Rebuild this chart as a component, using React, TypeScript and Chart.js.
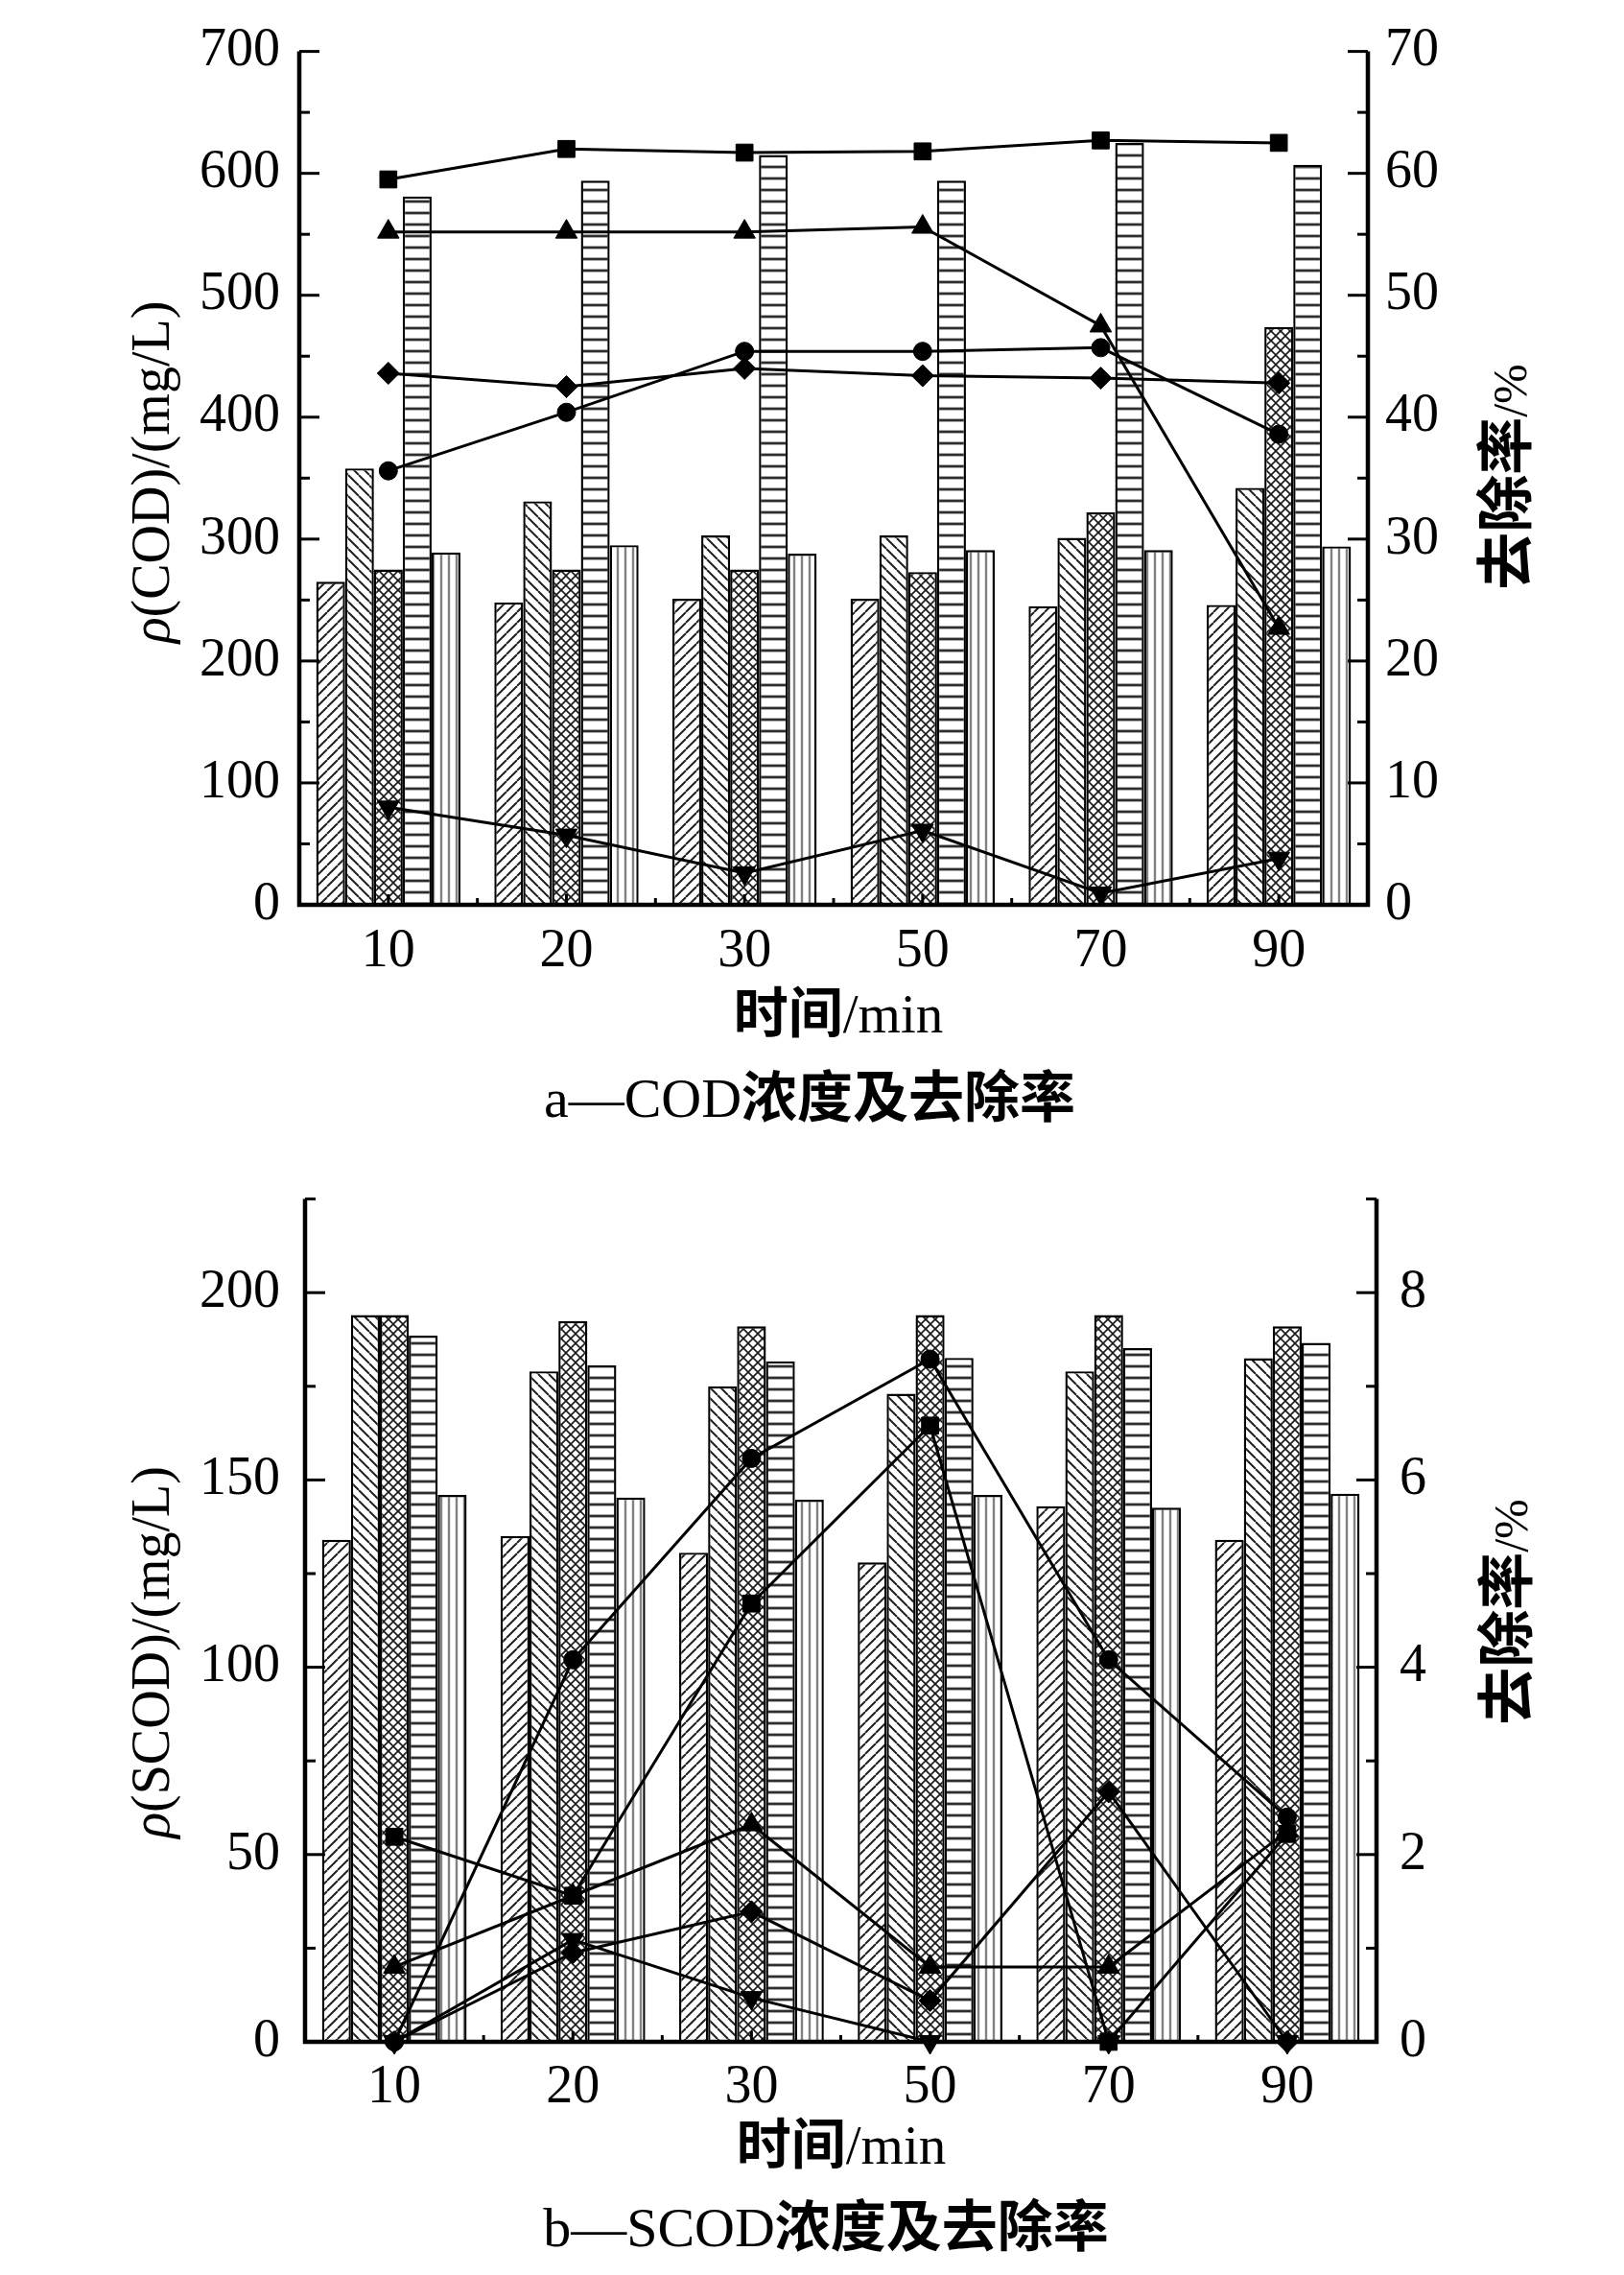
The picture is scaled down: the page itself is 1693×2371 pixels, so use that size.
import React, { useEffect, useRef } from 'react';
import { Chart, registerables } from 'chart.js';

Chart.register(...registerables);

// ---------- data ----------
const categories = ['10', '20', '30', '50', '70', '90'];

// a — COD concentration (mg/L), five bar series
const codBarA = [265, 248, 251, 251, 245, 246];
const codBarB = [358, 331, 303, 303, 301, 342];
const codBarC = [275, 275, 275, 273, 322, 474];
const codBarD = [581, 594, 615, 594, 625, 607];
const codBarE = [289, 295, 288, 291, 291, 294];
// a — removal rate (%)
const codRateSquare = [59.5, 62.0, 61.7, 61.8, 62.7, 62.5];
const codRateTriangle = [55.2, 55.2, 55.2, 55.6, 47.5, 22.7];
const codRateCircle = [35.6, 40.4, 45.4, 45.4, 45.7, 38.6];
const codRateDiamond = [43.6, 42.5, 44.0, 43.4, 43.2, 42.8];
const codRateInvTriangle = [8.0, 5.7, 2.6, 6.1, 0.95, 3.8];

// b — SCOD concentration (mg/L)
const scodBarA = [134, 135, 130.6, 128, 143, 134];
const scodBarB = [194, 179, 175, 173, 179, 182.5];
const scodBarC = [194, 192.4, 191, 194, 194, 191];
const scodBarD = [188.5, 180.6, 181.7, 182.6, 185.2, 186.6];
const scodBarE = [146, 145.3, 144.7, 146, 142.6, 146.3];
// b — removal rate (%)
const scodRateSquare = [2.19, 1.56, 4.68, 6.58, 0, 2.22];
const scodRateTriangle = [0.8, 1.56, 2.32, 0.8, 0.8, 2.25];
const scodRateCircle = [0, 4.08, 6.23, 7.29, 4.08, 2.4];
const scodRateDiamond = [0, 0.95, 1.39, 0.44, 2.67, 0];
const scodRateInvTriangle = [0, 1.09, 0.47, 0, 0, 0];

// axis ranges / tick steps
const codAxis = { max: 700, step: 50, labelEvery: 100 };
const codRateAxis = { max: 70, step: 5, labelEvery: 10 };
const scodAxis = { max: 225, step: 25, labelEvery: 50 };
const scodRateAxis = { max: 9, step: 1, labelEvery: 2 };

// ---------- styling ----------
const SERIF = '"Liberation Serif", "Times New Roman", serif';
const CJK = '"Noto Sans CJK SC", "Noto Sans CJK JP", sans-serif';
const W = 1693;

type Run = { text: string; font: string };

function drawRuns(ctx: CanvasRenderingContext2D, runs: Run[], cx: number, cy: number, rotate: boolean, size: number) {
  ctx.save();
  ctx.translate(cx, cy);
  if (rotate) ctx.rotate(-Math.PI / 2);
  ctx.textBaseline = 'alphabetic';
  ctx.textAlign = 'left';
  ctx.fillStyle = '#000';
  const widths = runs.map((r) => {
    ctx.font = r.font;
    return ctx.measureText(r.text).width;
  });
  const total = widths.reduce((a, b) => a + b, 0);
  let x = -total / 2;
  const base = size * 0.36;
  runs.forEach((r, i) => {
    ctx.font = r.font;
    ctx.fillText(r.text, x, base);
    x += widths[i];
  });
  ctx.restore();
}

function makePatterns(ctx: CanvasRenderingContext2D) {
  const tile = (s: number, draw: (c: CanvasRenderingContext2D, s: number) => void) => {
    const c = document.createElement('canvas');
    c.width = s;
    c.height = s;
    const t = c.getContext('2d') as CanvasRenderingContext2D;
    t.fillStyle = '#fff';
    t.fillRect(0, 0, s, s);
    draw(t, s);
    return ctx.createPattern(c, 'repeat') as CanvasPattern;
  };
  const diag = (t: CanvasRenderingContext2D, s: number, dir: number, color: string, lw: number) => {
    t.strokeStyle = color;
    t.lineWidth = lw;
    t.beginPath();
    for (let o = -s; o <= s; o += s) {
      if (dir > 0) {
        t.moveTo(o, s);
        t.lineTo(o + s, 0);
      } else {
        t.moveTo(o, 0);
        t.lineTo(o + s, s);
      }
    }
    t.stroke();
  };
  return {
    fwd: tile(11, (t, s) => diag(t, s, 1, '#222', 2.0)),
    back: tile(11, (t, s) => diag(t, s, -1, '#222', 2.0)),
    cross: tile(10, (t, s) => {
      diag(t, s, 1, '#1a1a1a', 1.6);
      diag(t, s, -1, '#1a1a1a', 1.6);
    }),
    horiz: tile(12, (t, s) => {
      t.fillStyle = '#2e2e2e';
      t.fillRect(0, s / 2 - 1.4, s, 2.8);
    }),
    vert: tile(8, (t, s) => {
      t.fillStyle = '#828282';
      t.fillRect(s / 2 - 1.2, 0, 2.4, s);
    }),
  };
}

type Spec = {
  height: number;
  area: { left: number; right: number; top: number; bottom: number };
  bars: number[][];
  lines: number[][];
  yAxis: { max: number; step: number; labelEvery: number };
  rAxis: { max: number; step: number; labelEvery: number };
  leftPad: number;
  rightPad: number;
  xPad: number;
  leftTitle: { runs: Run[]; x: number; y: number };
  rightTitle: { runs: Run[]; x: number; y: number };
  xTitle: { runs: Run[]; x: number; y: number };
  caption: { runs: Run[]; x: number; y: number };
};

const markerStyles = [
  { pointStyle: 'rect', radius: 12.5, rotation: 0 },
  { pointStyle: 'triangle', radius: 13, rotation: 0 },
  { pointStyle: 'circle', radius: 9.5, rotation: 0 },
  { pointStyle: 'rectRot', radius: 11.5, rotation: 0 },
  { pointStyle: 'triangle', radius: 13, rotation: 180 },
];

function buildConfig(spec: Spec, pats: ReturnType<typeof makePatterns>): any {
  const fills = [pats.fwd, pats.back, pats.cross, pats.horiz, pats.vert];
  const tickFont = { family: SERIF, size: 56 };
  const datasets: any[] = [];
  spec.lines.forEach((d, i) => {
    const m = markerStyles[i];
    datasets.push({
      type: 'line',
      data: d,
      yAxisID: 'y1',
      order: 0,
      borderColor: '#000',
      borderWidth: 3,
      tension: 0,
      pointStyle: m.pointStyle,
      pointRadius: m.radius,
      pointRotation: m.rotation,
      pointBackgroundColor: '#000',
      pointBorderColor: '#000',
      pointBorderWidth: 1,
      clip: false,
    });
  });
  spec.bars.forEach((d, i) => {
    datasets.push({
      type: 'bar',
      data: d,
      yAxisID: 'y',
      order: 1,
      backgroundColor: fills[i],
      borderColor: '#000',
      borderWidth: 2.4,
      categoryPercentage: 0.81,
      barPercentage: 1,
    });
  });

  const a = spec.area;
  const decor = {
    id: 'decor',
    afterDraw(chart: any) {
      const ctx: CanvasRenderingContext2D = chart.ctx;
      const ca = chart.chartArea;
      const ys = chart.scales.y;
      const rs = chart.scales.y1;
      const xs = chart.scales.x;
      ctx.save();
      ctx.strokeStyle = '#000';
      ctx.lineCap = 'butt';
      ctx.lineWidth = 3;
      ys.ticks.forEach((t: any) => {
        const py = ys.getPixelForValue(t.value);
        const major = Math.abs(t.value % spec.yAxis.labelEvery) < 1e-6;
        const len = major ? 21 : 11;
        ctx.beginPath();
        ctx.moveTo(ca.left, py);
        ctx.lineTo(ca.left + len, py);
        ctx.stroke();
      });
      rs.ticks.forEach((t: any) => {
        const py = rs.getPixelForValue(t.value);
        const major = Math.abs(t.value % spec.rAxis.labelEvery) < 1e-6;
        const len = major ? 21 : 11;
        ctx.beginPath();
        ctx.moveTo(ca.right, py);
        ctx.lineTo(ca.right - len, py);
        ctx.stroke();
      });
      const n = categories.length;
      for (let i = 0; i < n; i++) {
        const px = xs.getPixelForValue(i);
        ctx.beginPath();
        ctx.moveTo(px, ca.bottom);
        ctx.lineTo(px, ca.bottom - 11);
        ctx.stroke();
        if (i < n - 1) {
          const nx = xs.getPixelForValue(i + 1);
          const mx = (px + nx) / 2;
          ctx.beginPath();
          ctx.moveTo(mx, ca.bottom);
          ctx.lineTo(mx, ca.bottom - 7);
          ctx.stroke();
        }
      }
      ctx.lineWidth = 4.5;
      ctx.lineJoin = 'miter';
      ctx.beginPath();
      ctx.moveTo(ca.left, ca.top);
      ctx.lineTo(ca.left, ca.bottom);
      ctx.lineTo(ca.right, ca.bottom);
      ctx.lineTo(ca.right, ca.top);
      ctx.stroke();
      ctx.restore();

      drawRuns(ctx, spec.leftTitle.runs, spec.leftTitle.x, spec.leftTitle.y, true, 56);
      drawRuns(ctx, spec.rightTitle.runs, spec.rightTitle.x, spec.rightTitle.y, true, 58);
      drawRuns(ctx, spec.xTitle.runs, spec.xTitle.x, spec.xTitle.y, false, 57);
      drawRuns(ctx, spec.caption.runs, spec.caption.x, spec.caption.y, false, 58);
    },
  };

  return {
    type: 'bar',
    data: { labels: categories, datasets },
    options: {
      responsive: false,
      animation: false,
      devicePixelRatio: 1,
      layout: { padding: { top: a.top, left: 0, right: 0, bottom: 0 } },
      plugins: { legend: { display: false }, tooltip: { enabled: false }, title: { display: false } },
      scales: {
        x: {
          type: 'category',
          offset: true,
          grid: { display: false, drawTicks: false },
          border: { display: false },
          ticks: { font: tickFont, color: '#000', padding: spec.xPad, autoSkip: false, maxRotation: 0 },
          afterFit: (s: any) => {
            s.height = spec.height - a.bottom;
          },
        },
        y: {
          position: 'left',
          min: 0,
          max: spec.yAxis.max,
          grid: { display: false, drawTicks: false },
          border: { display: false },
          ticks: {
            stepSize: spec.yAxis.step,
            autoSkip: false,
            font: tickFont,
            color: '#000',
            padding: spec.leftPad,
            callback: (v: number) => (Math.abs(v % spec.yAxis.labelEvery) < 1e-6 ? String(v) : ''),
          },
          afterFit: (s: any) => {
            s.width = a.left;
          },
        },
        y1: {
          position: 'right',
          min: 0,
          max: spec.rAxis.max,
          grid: { display: false, drawTicks: false },
          border: { display: false },
          ticks: {
            stepSize: spec.rAxis.step,
            autoSkip: false,
            font: tickFont,
            color: '#000',
            padding: spec.rightPad,
            callback: (v: number) => (Math.abs(v % spec.rAxis.labelEvery) < 1e-6 ? String(v) : ''),
          },
          afterFit: (s: any) => {
            s.width = W - a.right;
          },
        },
      },
    },
    plugins: [decor],
  };
}

const rateRuns: Run[] = [
  { text: '去除率', font: `bold 60px ${CJK}` },
  { text: '/%', font: `50px ${SERIF}` },
];
const timeRuns: Run[] = [
  { text: '时间', font: `bold 57px ${CJK}` },
  { text: '/min', font: `57px ${SERIF}` },
];

const specA: Spec = {
  height: 1190,
  area: { left: 312, right: 1426, top: 46, bottom: 943 },
  bars: [codBarA, codBarB, codBarC, codBarD, codBarE],
  lines: [codRateSquare, codRateTriangle, codRateCircle, codRateDiamond, codRateInvTriangle],
  yAxis: codAxis,
  rAxis: codRateAxis,
  leftPad: 20,
  rightPad: 18,
  xPad: 16,
  leftTitle: {
    runs: [
      { text: 'ρ', font: `italic 56px ${SERIF}` },
      { text: '(COD)/(mg/L)', font: `56px ${SERIF}` },
    ],
    x: 156,
    y: 492,
  },
  rightTitle: { runs: rateRuns, x: 1570, y: 497 },
  xTitle: { runs: timeRuns, x: 874, y: 1055 },
  caption: {
    runs: [
      { text: 'a—COD', font: `58px ${SERIF}` },
      { text: '浓度及去除率', font: `bold 58px ${CJK}` },
    ],
    x: 844,
    y: 1143,
  },
};

const specB: Spec = {
  height: 1181,
  area: { left: 318, right: 1435, top: 41, bottom: 938 },
  bars: [scodBarA, scodBarB, scodBarC, scodBarD, scodBarE],
  lines: [scodRateSquare, scodRateTriangle, scodRateCircle, scodRateDiamond, scodRateInvTriangle],
  yAxis: scodAxis,
  rAxis: scodRateAxis,
  leftPad: 26,
  rightPad: 24,
  xPad: 15,
  leftTitle: {
    runs: [
      { text: 'ρ', font: `italic 56px ${SERIF}` },
      { text: '(SCOD)/(mg/L)', font: `56px ${SERIF}` },
    ],
    x: 156,
    y: 532,
  },
  rightTitle: { runs: rateRuns, x: 1571, y: 490 },
  xTitle: { runs: timeRuns, x: 877, y: 1044 },
  caption: {
    runs: [
      { text: 'b—SCOD', font: `58px ${SERIF}` },
      { text: '浓度及去除率', font: `bold 58px ${CJK}` },
    ],
    x: 861,
    y: 1130,
  },
};

function Panel({ spec, top }: { spec: Spec; top: number }) {
  const ref = useRef<HTMLCanvasElement | null>(null);
  useEffect(() => {
    const canvas = ref.current;
    if (!canvas) return;
    const ctx = canvas.getContext('2d') as CanvasRenderingContext2D;
    const pats = makePatterns(ctx);
    const chart = new Chart(canvas, buildConfig(spec, pats));
    return () => chart.destroy();
  }, [spec]);
  return (
    <canvas
      ref={ref}
      width={W}
      height={spec.height}
      style={{ position: 'absolute', left: 0, top, width: W, height: spec.height, display: 'block' }}
    />
  );
}

export default function App() {
  return (
    <div style={{ position: 'absolute', left: 0, top: 0, width: W, height: 2371, background: '#fff', overflow: 'hidden' }}>
      <Panel spec={specA} top={0} />
      <Panel spec={specB} top={1190} />
    </div>
  );
}
